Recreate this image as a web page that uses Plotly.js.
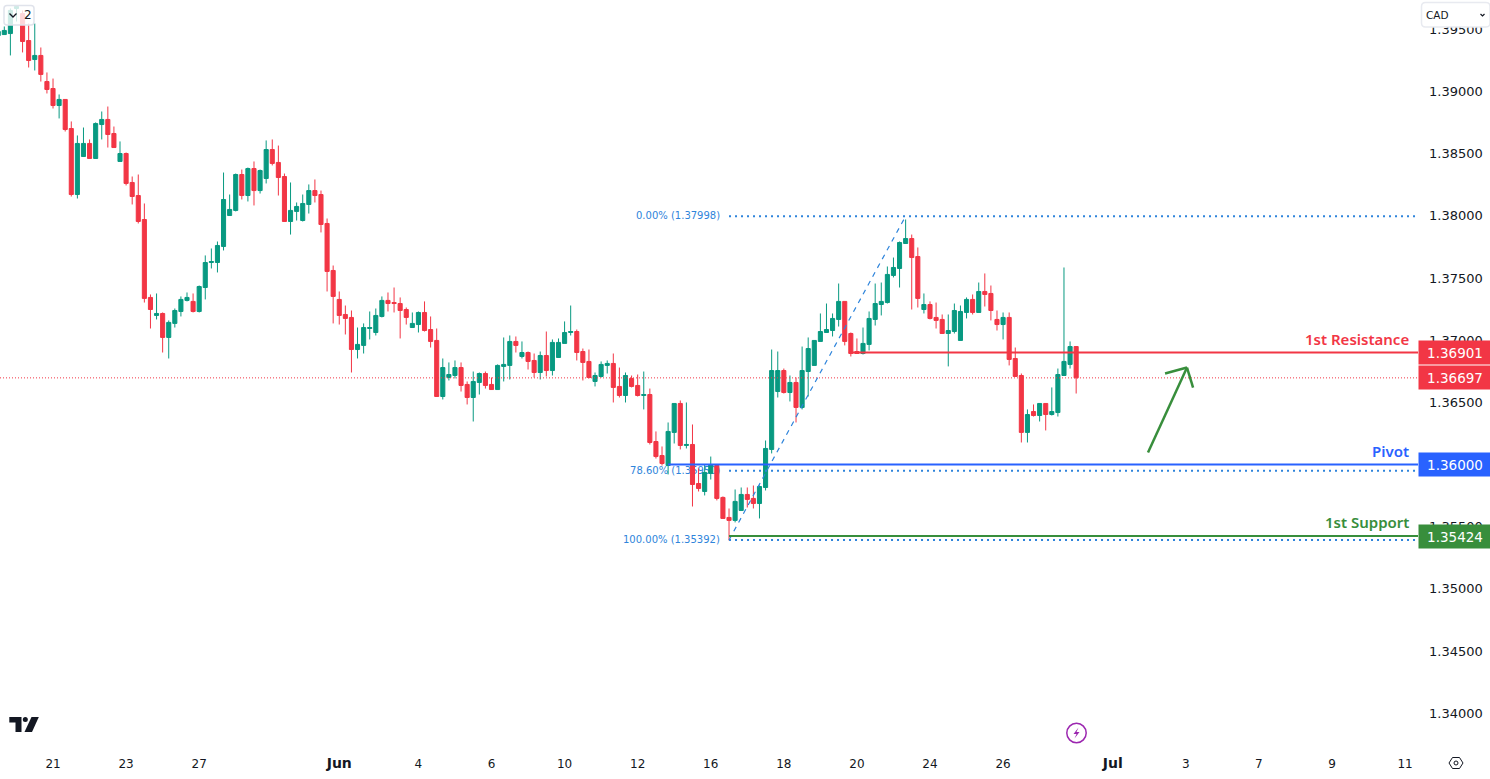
<!DOCTYPE html>
<html><head><meta charset="utf-8">
<script src="https://cdn.plot.ly/plotly-3.0.1.min.js"></script>
<style>html,body{margin:0;padding:0;background:#fff}#c{width:1490px;height:779px}</style>
</head><body><div id="c"></div>
<script>
const firstIndex = -1;
const open = [1.39451,1.39459,1.39467,1.39669,1.39628,1.39411,1.39258,1.39291,1.39081,1.39025,1.38888,1.38937,1.38703,1.38172,1.38478,1.38583,1.38462,1.38735,1.38776,1.38663,1.38438,1.38502,1.38269,1.38164,1.37971,1.37344,1.37199,1.37215,1.37022,1.37135,1.37231,1.37320,1.37312,1.37231,1.37424,1.37625,1.37625,1.37754,1.38003,1.38044,1.38333,1.38164,1.38381,1.38204,1.38301,1.38534,1.38430,1.38317,1.37955,1.38036,1.37963,1.38092,1.38204,1.38172,1.37939,1.37561,1.37328,1.37207,1.37183,1.36925,1.36958,1.37094,1.37062,1.37191,1.37320,1.37303,1.37295,1.37247,1.37102,1.37126,1.37223,1.37086,1.36998,1.36547,1.36700,1.36716,1.36780,1.36644,1.36539,1.36660,1.36732,1.36644,1.36603,1.36789,1.36797,1.36990,1.36869,1.36901,1.36837,1.36740,1.36877,1.36756,1.36861,1.36974,1.37062,1.37070,1.36909,1.36829,1.36668,1.36708,1.36797,1.36813,1.36628,1.36555,1.36692,1.36636,1.36555,1.36563,1.36185,1.36072,1.35992,1.36258,1.36491,1.36153,1.36161,1.35847,1.35783,1.35928,1.35992,1.35735,1.35574,1.35550,1.35630,1.35759,1.35727,1.35686,1.35815,1.36121,1.36587,1.36756,1.36579,1.36660,1.36459,1.36748,1.36797,1.36990,1.37062,1.37078,1.37167,1.37312,1.37054,1.36909,1.36893,1.36966,1.37167,1.37287,1.37303,1.37521,1.37577,1.37778,1.37818,1.37673,1.37247,1.37287,1.37183,1.37167,1.37054,1.37070,1.36998,1.37223,1.37328,1.37223,1.37392,1.37376,1.37167,1.37126,1.37183,1.36853,1.36716,1.36258,1.36426,1.36394,1.36491,1.36402,1.36418,1.36716,1.36805,1.36949];
const high = [1.39500,1.39524,1.39669,1.39693,1.39653,1.39548,1.39548,1.39355,1.39154,1.39105,1.38977,1.38937,1.38760,1.38647,1.38711,1.38615,1.38752,1.38840,1.38880,1.38719,1.38599,1.38510,1.38317,1.38333,1.38100,1.37368,1.37376,1.37223,1.37159,1.37255,1.37352,1.37384,1.37376,1.37440,1.37682,1.37738,1.37794,1.38349,1.38172,1.38341,1.38373,1.38389,1.38438,1.38373,1.38607,1.38615,1.38566,1.38341,1.38269,1.38108,1.38172,1.38253,1.38293,1.38204,1.37979,1.37601,1.37392,1.37279,1.37239,1.37102,1.37135,1.37231,1.37255,1.37352,1.37384,1.37424,1.37344,1.37263,1.37223,1.37231,1.37312,1.37191,1.37094,1.36853,1.36821,1.36837,1.36821,1.36668,1.36748,1.36740,1.36748,1.36700,1.36805,1.37022,1.37038,1.37030,1.36990,1.36909,1.36893,1.36909,1.37070,1.37006,1.37014,1.37151,1.37279,1.37086,1.36933,1.36925,1.36740,1.36829,1.36837,1.36893,1.36780,1.36740,1.36716,1.36724,1.36748,1.36611,1.36266,1.36145,1.36338,1.36491,1.36515,1.36499,1.36322,1.35968,1.36000,1.36064,1.36000,1.35743,1.35646,1.35799,1.35815,1.35815,1.35831,1.35831,1.36193,1.36925,1.36909,1.36772,1.36716,1.36700,1.36949,1.37022,1.36998,1.37215,1.37295,1.37215,1.37456,1.37312,1.37062,1.37014,1.37102,1.37231,1.37456,1.37464,1.37593,1.37665,1.37794,1.37971,1.37850,1.37746,1.37376,1.37312,1.37303,1.37207,1.37207,1.37295,1.37279,1.37344,1.37368,1.37464,1.37537,1.37440,1.37239,1.37223,1.37223,1.36941,1.36732,1.36443,1.36483,1.36491,1.36491,1.36620,1.36772,1.37585,1.36990,1.36949];
const low = [1.39427,1.39459,1.39291,1.39564,1.39315,1.39194,1.39170,1.39081,1.38985,1.38864,1.38784,1.38679,1.38156,1.38140,1.38478,1.38462,1.38462,1.38615,1.38550,1.38550,1.38438,1.38245,1.38092,1.37939,1.37303,1.37094,1.37167,1.36901,1.36853,1.37102,1.37191,1.37312,1.37223,1.37223,1.37328,1.37577,1.37545,1.37722,1.38003,1.38036,1.38132,1.38116,1.38084,1.38180,1.38261,1.38406,1.38164,1.37955,1.37850,1.37963,1.37955,1.38019,1.38108,1.37867,1.37392,1.37135,1.37126,1.37046,1.36740,1.36853,1.36893,1.37006,1.37038,1.37183,1.37231,1.37223,1.37014,1.37126,1.37102,1.37062,1.37070,1.36941,1.36547,1.36523,1.36676,1.36692,1.36587,1.36483,1.36346,1.36563,1.36611,1.36603,1.36603,1.36668,1.36684,1.36901,1.36853,1.36764,1.36700,1.36684,1.36708,1.36716,1.36861,1.36974,1.37038,1.36837,1.36676,1.36692,1.36628,1.36700,1.36732,1.36499,1.36539,1.36499,1.36620,1.36547,1.36443,1.36161,1.36048,1.35992,1.35920,1.36169,1.36121,1.36129,1.35662,1.35783,1.35751,1.35879,1.35711,1.35566,1.35389,1.35534,1.35630,1.35654,1.35646,1.35566,1.35791,1.36089,1.36539,1.36571,1.36507,1.36338,1.36443,1.36547,1.36797,1.36990,1.37062,1.37030,1.37110,1.36958,1.36869,1.36893,1.36885,1.36917,1.37118,1.37199,1.37295,1.37505,1.37424,1.37778,1.37247,1.37263,1.37215,1.37167,1.37094,1.37054,1.36789,1.37054,1.36998,1.37175,1.37207,1.37223,1.37271,1.37159,1.37078,1.37006,1.36797,1.36708,1.36177,1.36177,1.36386,1.36346,1.36274,1.36394,1.36386,1.36716,1.36772,1.36571];
const close = [1.39484,1.39492,1.39653,1.39685,1.39403,1.39250,1.39291,1.39138,1.39017,1.38888,1.38937,1.38695,1.38172,1.38583,1.38583,1.38462,1.38743,1.38776,1.38655,1.38550,1.38502,1.38261,1.38156,1.37955,1.37336,1.37247,1.37215,1.37022,1.37143,1.37239,1.37328,1.37344,1.37231,1.37432,1.37625,1.37633,1.37762,1.38132,1.38052,1.38333,1.38164,1.38381,1.38204,1.38365,1.38534,1.38422,1.38309,1.37955,1.38044,1.38076,1.38100,1.38204,1.38164,1.37931,1.37553,1.37352,1.37199,1.37175,1.36925,1.36966,1.37102,1.37102,1.37199,1.37320,1.37295,1.37295,1.37239,1.37183,1.37135,1.37223,1.37078,1.36990,1.36547,1.36780,1.36724,1.36780,1.36636,1.36539,1.36668,1.36732,1.36636,1.36603,1.36797,1.36805,1.36990,1.36958,1.36901,1.36829,1.36740,1.36877,1.36756,1.36982,1.36982,1.37062,1.37070,1.36901,1.36821,1.36700,1.36716,1.36805,1.36813,1.36620,1.36555,1.36716,1.36628,1.36555,1.36563,1.36177,1.36064,1.36008,1.36266,1.36491,1.36153,1.36161,1.35839,1.35807,1.35936,1.36000,1.35727,1.35566,1.35550,1.35703,1.35759,1.35719,1.35686,1.35823,1.36129,1.36756,1.36756,1.36579,1.36660,1.36459,1.36756,1.36933,1.36998,1.37070,1.37086,1.37175,1.37312,1.36990,1.36893,1.36893,1.36974,1.37175,1.37295,1.37312,1.37529,1.37585,1.37786,1.37818,1.37665,1.37336,1.37287,1.37175,1.37159,1.37054,1.37078,1.37239,1.37231,1.37328,1.37223,1.37392,1.37368,1.37239,1.37126,1.37183,1.36845,1.36708,1.36258,1.36402,1.36394,1.36491,1.36402,1.36426,1.36724,1.36829,1.36949,1.36697];

const big = s => '<span style="font-size:14px"><b>' + s + '</b></span>';
const xTickVals = [8,20,32,55,68,80,92,104,116,128,140,152,164,182,194,206,218,230];
const xTickText = ['21','23','27',big('Jun'),'4','6','10','12','16','18','20','24','26',big('Jul'),'3','7','9','11'];
const yTickVals = [1.34,1.345,1.35,1.355,1.36,1.365,1.37,1.375,1.38,1.385,1.39,1.395];

const resistance = 1.36901, pivot = 1.36000, support = 1.35424, lastPrice = 1.36697;
const fib0 = 1.37998, fib786 = 1.35950, fib100 = 1.35392;
const fibStart = 119, fibEnd = 148;
const resStart = 139, pivotStart = 109, supStart = 119;
const arrowX = [187.8, 194.2, 190.6, 195.2];
const arrowY = [1.36097, 1.36780, 1.36732, 1.36619];

const W = 1418, H = 750;
const xMin = -0.706, xMax = 232.13, yMin = 1.33703, yMax = 1.39737;
const RED = '#F23645', GREEN = '#089981', BLUE = '#2962FF', SUP = '#388E3C', FIB = '#2E84DB', FONT = '"DejaVu Sans", sans-serif', LFONT = '"Noto Sans", sans-serif';
const xs = open.map((_, i) => firstIndex + i);
const px = v => v / W, py = v => (H - v) / H;

const line = (x0, x1, y, color, width, dash) => ({type:'line', xref:'x', yref:'y', x0, x1, y0:y, y1:y, line:{color, width, dash:dash||'solid'}});
const pathP = (pts, fill, color, width) => ({type:'path', xref:'paper', yref:'paper', path:pts.map((p,i)=>(i?'L':'M')+px(p[0])+','+py(p[1])).join(' ')+(fill?' Z':''), fillcolor:fill||'rgba(0,0,0,0)', line:{color:color||'rgba(0,0,0,0)', width:width||0}});
const rounded = (x0,y0,x1,y1,r,fill,stroke) => ({type:'path', xref:'paper', yref:'paper',
  path:`M${px(x0+r)},${py(y0)} L${px(x1-r)},${py(y0)} Q${px(x1)},${py(y0)} ${px(x1)},${py(y0+r)} L${px(x1)},${py(y1-r)} Q${px(x1)},${py(y1)} ${px(x1-r)},${py(y1)} L${px(x0+r)},${py(y1)} Q${px(x0)},${py(y1)} ${px(x0)},${py(y1-r)} L${px(x0)},${py(y0+r)} Q${px(x0)},${py(y0)} ${px(x0+r)},${py(y0)} Z`,
  fillcolor:fill, line:{color:stroke, width:1.5}});
const circle = (cx,cy,r,fill,color,width) => ({type:'circle', xref:'paper', yref:'paper', x0:px(cx-r), x1:px(cx+r), y0:py(cy+r), y1:py(cy-r), fillcolor:fill, line:{color, width}});

const shapes = [
  {type:'line', layer:'below', xref:'paper', yref:'y', x0:px(560), x1:px(720.5), y0:fib786+0.00012, y1:fib786+0.00012, line:{color:'rgba(0,0,0,0)', width:1},
   label:{text:'78.60% (1.35950)', textposition:'end', xanchor:'right', yanchor:'middle', padding:0, font:{family:FONT, size:10, color:FIB}}},
  line(xMin, xMax, lastPrice, RED, 1, '1px,2px'),
  line(fibStart, xMax, fib0, FIB, 2, '2px,4px'),
  line(fibStart, xMax, fib786, FIB, 2, '2px,4px'),
  line(fibStart, xMax, fib100, FIB, 2, '2px,4px'),
  {type:'line', xref:'x', yref:'y', x0:fibStart, x1:fibEnd, y0:fib100, y1:fib0, line:{color:FIB, width:1.2, dash:'5px,5px'}},
  line(resStart, xMax, resistance, RED, 2),
  line(pivotStart, xMax, pivot, BLUE, 2),
  line(supStart, xMax, support, SUP, 2),
  {type:'line', xref:'x', yref:'y', x0:arrowX[0], x1:arrowX[1], y0:arrowY[0], y1:arrowY[1], line:{color:SUP, width:2.5}},
  {type:'line', xref:'x', yref:'y', x0:arrowX[2], x1:arrowX[1], y0:arrowY[2], y1:arrowY[1], line:{color:SUP, width:2.5}},
  {type:'line', xref:'x', yref:'y', x0:arrowX[3], x1:arrowX[1], y0:arrowY[3], y1:arrowY[1], line:{color:SUP, width:2.5}},
  // TradingView logo
  pathP([[9.3,717],[21.5,717],[21.5,732],[15.5,732],[15.5,722.5],[9.3,722.5]], '#131722'),
  circle(25.3,719.6,2.5,'#131722','#131722',0),
  pathP([[31.5,717],[38.8,717],[32,732],[24.5,732]], '#131722'),
  // collapse box, currency box
  rounded(4,5.5,34,25,3,'rgba(255,255,255,0.8)','#E0E3EB'),
  pathP([[9.5,13.5],[13,17],[16.5,13.5]], null, '#131722', 1.3),
  rounded(1421.5,2.5,1490,27,4,'#FFFFFF','#E8EAF0'),
  pathP([[1480.5,14],[1482.5,16],[1484.5,14]], null, '#131722', 1.2),
  // alert bolt
  circle(1076.5,733,9.7,'rgba(0,0,0,0)','#9C27B0',1.5),
  pathP([[1078.5,727.5],[1073.5,734],[1076.5,734],[1074.5,738.5],[1079.5,732],[1076.5,732]], '#9C27B0'),
  // settings gear
  pathP([[1449,763],[1452.5,757.5],[1459.5,757.5],[1463,763],[1459.5,768.5],[1452.5,768.5],[1449,763]], null, '#131722', 1),
  circle(1456,763,2,'rgba(0,0,0,0)','#131722',1)
];

const tag = (y, text, bg) => ({xref:'paper', yref:'y', x:1, y, xanchor:'left', yanchor:'middle', text, showarrow:false, width:72, height:23, align:'center', valign:'middle', bgcolor:bg, borderpad:0, font:{family:FONT, size:13.5, color:'#FFFFFF'}});
const label = (x, y, text, color, size, weight, family) => ({xref:'paper', yref:'paper', x:px(x), y:py(y), xanchor:'right', yanchor:'middle', text, showarrow:false, borderpad:0, font:{family:family||FONT, size, color, weight:weight||400}});

const annotations = [
  tag(resistance, '1.36901', RED),
  tag(lastPrice, '1.36697', RED),
  tag(pivot, '1.36000', BLUE),
  tag(support, '1.35424', SUP),
  label(1410, 339, '1st Resistance', RED, 15, 600, LFONT),
  label(1410, 451, 'Pivot', BLUE, 15, 600, LFONT),
  label(1410, 522, '1st Support', SUP, 15, 600, LFONT),
  label(721, 215.5, '0.00% (1.37998)', FIB, 10),
  label(721, 539.5, '100.00% (1.35392)', FIB, 10),
  {xref:'paper', yref:'paper', x:px(22), y:py(15), xanchor:'left', yanchor:'middle', text:'2', showarrow:false, font:{family:FONT, size:12, color:'#131722'}},
  {xref:'paper', yref:'paper', x:px(1423.5), y:py(15), xanchor:'left', yanchor:'middle', text:'CAD', showarrow:false, font:{family:FONT, size:10.5, color:'#131722'}}
];

const trace = {type:'candlestick', x:xs, open, high, low, close, whiskerwidth:0, hoverinfo:'skip',
  increasing:{line:{color:GREEN, width:1}, fillcolor:GREEN},
  decreasing:{line:{color:RED, width:1}, fillcolor:RED}};

Plotly.newPlot('c', [trace], {
  width:1490, height:779, margin:{l:0, r:72, t:0, b:29, pad:0},
  paper_bgcolor:'#FFFFFF', plot_bgcolor:'#FFFFFF', showlegend:false, boxgap:0.33, boxgroupgap:0,
  dragmode:false,
  xaxis:{type:'linear', range:[xMin,xMax], tickmode:'array', tickvals:xTickVals, ticktext:xTickText, showgrid:false, zeroline:false, showline:false, ticks:'', rangeslider:{visible:false}, tickfont:{family:FONT, size:12, color:'#131722'}, ticklabelstandoff:5},
  yaxis:{side:'right', range:[yMin,yMax], tickmode:'array', tickvals:yTickVals, ticktext:yTickVals.map(v=>v.toFixed(5)), showgrid:false, zeroline:false, showline:false, ticks:'', tickfont:{family:FONT, size:13, color:'#131722'}, ticklabelstandoff:10},
  shapes, annotations
}, {displayModeBar:false, staticPlot:true});
</script></body></html>
